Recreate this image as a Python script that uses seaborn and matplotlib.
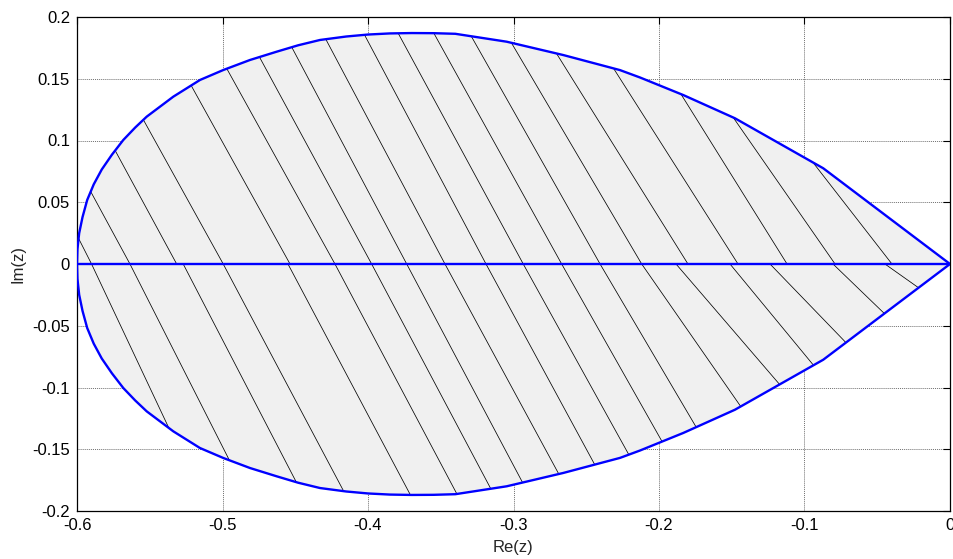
import matplotlib
matplotlib.use("Agg")
import matplotlib.pyplot as plt
import pandas as pd
import seaborn as sns

# upper half of the region boundary (the lower half is its mirror image)
re_upper = [-0.600, -0.5997, -0.5985, -0.5962, -0.5930, -0.5885, -0.5830, -0.5760,
            -0.5682, -0.5600, -0.5521, -0.5338, -0.5155, -0.4994, -0.4811, -0.4628,
            -0.448, -0.433, -0.415, -0.40, -0.385, -0.37, -0.355, -0.34,
            -0.3047, -0.2658, -0.2268, -0.213, -0.1833, -0.1478, -0.0871, 0.0]
im_upper = [0.0, 0.012, 0.025, 0.038, 0.0518, 0.0645, 0.0765, 0.0885,
            0.1004, 0.1105, 0.1193, 0.1355, 0.149, 0.1571, 0.1652, 0.1719,
            0.1771, 0.1814, 0.1842, 0.1858, 0.1867, 0.1870, 0.1869, 0.1864,
            0.180, 0.1692, 0.157, 0.151, 0.1368, 0.118, 0.0775, 0.0]

# hatch lines: where each one crosses Im(z)=0 and its tilt (dRe per dIm)
hatch_up_x0 = [-0.590, -0.5636, -0.5315, -0.4995, -0.4536, -0.4227, -0.3975, -0.3734,
               -0.3471, -0.3189, -0.2933, -0.2669, -0.2405, -0.2119, -0.1801, -0.1457,
               -0.112, -0.079, -0.0399]
hatch_up_tilt = [0.43, 0.46, 0.46, 0.47, 0.47, 0.47, 0.46, 0.45,
                 0.45, 0.45, 0.46, 0.47, 0.48, 0.50, 0.53, 0.54,
                 0.53, 0.59, 0.66]
hatch_lo_x0 = [-0.590, -0.5636, -0.527, -0.4995, -0.455, -0.4227, -0.3975, -0.3734,
               -0.3471, -0.3189, -0.2933, -0.2669, -0.2405, -0.2119, -0.1883, -0.1512,
               -0.1237, -0.0804, -0.0447]
hatch_lo_tilt = [0.40, 0.43, 0.44, 0.45, 0.45, 0.45, 0.45, 0.45,
                 0.46, 0.46, 0.47, 0.48, 0.50, 0.59, 0.73, 0.70,
                 0.82, 0.88, 1.20]

xticks = [-0.6, -0.5, -0.4, -0.3, -0.2, -0.1, 0.0]
xtick_labels = ["-0.6", "-0.5", "-0.4", "-0.3", "-0.2", "-0.1", "0"]
yticks = [-0.2, -0.15, -0.1, -0.05, 0.0, 0.05, 0.1, 0.15, 0.2]
ytick_labels = ["-0.2", "-0.15", "-0.1", "-0.05", "0", "0.05", "0.1", "0.15", "0.2"]

sns.set_theme(style="white")
plt.rcParams["font.family"] = ["Liberation Sans", "DejaVu Sans"]

fig = plt.figure(figsize=(9.54, 5.59), dpi=100)
ax = fig.add_axes([77 / 954, 48 / 559, 873 / 954, 494 / 559])

im_lower = [-v for v in im_upper]
top = ax.fill(re_upper, im_upper, color="#f0f0f0", lw=0, zorder=1)[0]
bottom = ax.fill(re_upper, im_lower, color="#f0f0f0", lw=0, zorder=1)[0]

# hatching, clipped to each half of the region
for x0, t in zip(hatch_up_x0, hatch_up_tilt):
    ln, = ax.plot([x0, x0 - 0.2 * t], [0, 0.2], color="black", lw=0.55, zorder=2)
    ln.set_clip_path(top)
for x0, t in zip(hatch_lo_x0, hatch_lo_tilt):
    ln, = ax.plot([x0, x0 + 0.2 * t], [0, -0.2], color="black", lw=0.55, zorder=2)
    ln.set_clip_path(bottom)

boundary = pd.DataFrame({"re": re_upper + re_upper[::-1],
                         "im": im_upper + im_lower[::-1]})
sns.lineplot(data=boundary, x="re", y="im", sort=False, estimator=None,
             color="#0000ff", lw=1.7, ax=ax, zorder=3)
axis_line = pd.DataFrame({"re": [re_upper[0], re_upper[-1]], "im": [0.0, 0.0]})
sns.lineplot(data=axis_line, x="re", y="im", sort=False, estimator=None,
             color="#0000ff", lw=1.7, ax=ax, zorder=3)

ax.set_xlim(-0.6, 0)
ax.set_ylim(-0.2, 0.2)
ax.set_xticks(xticks, xtick_labels)
ax.set_yticks(yticks, ytick_labels)
ax.set_axisbelow(True)
ax.grid(True, color="#707070", ls=(0, (1, 1)), lw=0.7)
ax.tick_params(direction="in", top=True, right=True, length=5, width=0.8,
               labelsize=12, colors="black", pad=5)
for s in ax.spines.values():
    s.set_color("black")
    s.set_linewidth(0.9)
ax.set_xlabel("Re(z)", fontsize=12, labelpad=5)
ax.set_ylabel("Im(z)", fontsize=12, labelpad=5)

fig.savefig("out.png", dpi=100)
